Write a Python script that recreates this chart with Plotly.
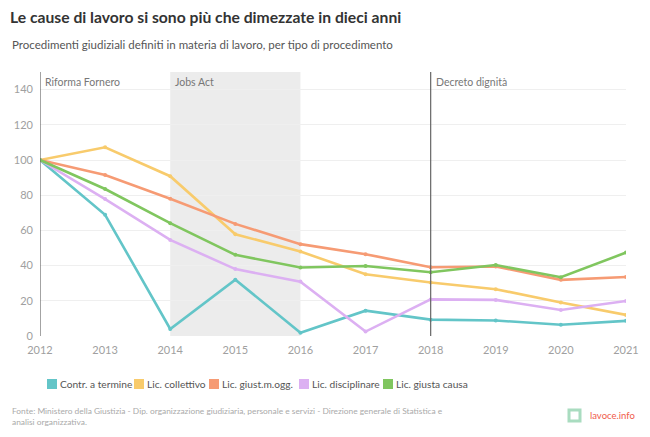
import plotly.graph_objects as go

years = [2012, 2013, 2014, 2015, 2016, 2017, 2018, 2019, 2020, 2021]
contr_termine = [100, 68.9, 4.0, 32.0, 1.8, 14.4, 9.3, 8.8, 6.4, 8.6]
lic_collettivo = [100, 107.2, 90.8, 57.8, 48.0, 35.1, 30.4, 26.6, 19.0, 12.0]
lic_giust_mogg = [100, 91.5, 78.0, 63.7, 52.2, 46.5, 39.1, 39.5, 31.9, 33.5]
lic_disciplinare = [100, 77.8, 54.6, 38.0, 30.9, 2.5, 20.8, 20.5, 14.8, 19.9]
lic_giusta_causa = [100, 83.5, 64.1, 46.1, 38.9, 39.8, 36.2, 40.3, 33.4, 47.4]

series_names = ["Contr. a termine", "Lic. collettivo", "Lic. giust.m.ogg.",
                "Lic. disciplinare", "Lic. giusta causa"]
series_values = [contr_termine, lic_collettivo, lic_giust_mogg,
                 lic_disciplinare, lic_giusta_causa]
colors = ["#63c5c8", "#f8cb6c", "#f69b74", "#dcb0f2", "#80c65f"]

y_ticks = [0, 20, 40, 60, 80, 100, 120, 140]

FONT = "Lato"
W, H = 650, 437
L, R, T, B = 40, 24, 72, 101
PW, PH = W - L - R, H - T - B


def px(xp):
    return (xp - L) / PW


def py(yp):
    return (H - B - yp) / PH


fig = go.Figure()

for name, vals, col in zip(series_names, series_values, colors):
    fig.add_trace(go.Scatter(
        x=years, y=vals, mode="lines+markers", name=name,
        line=dict(color=col, width=2.6), marker=dict(size=4, color=col),
        showlegend=False))

fig.add_shape(type="rect", xref="x", yref="paper", x0=2014, x1=2016, y0=0, y1=1,
              fillcolor="#ececec", line=dict(width=0), layer="below")
for xv in [2012, 2018]:
    fig.add_shape(type="line", xref="x", yref="paper", x0=xv, x1=xv, y0=0, y1=1,
                  line=dict(color="#666666", width=1.2), layer="above")

for xv, txt in [(2012, "Riforma Fornero"), (2014, "Jobs Act"), (2018, "Decreto dignità")]:
    fig.add_annotation(x=xv, y=1, xref="x", yref="paper", text=txt, showarrow=False,
                       xanchor="left", yanchor="top", xshift=3, yshift=-2,
                       font=dict(family=FONT, size=10.5, color="#777777"))

# manual legend (square swatches + labels)
legend_x = [47, 134, 209, 299, 383]
for xs, name, col in zip(legend_x, series_names, colors):
    fig.add_shape(type="rect", xref="paper", yref="paper",
                  x0=px(xs), x1=px(xs + 10), y0=py(389), y1=py(379),
                  fillcolor=col, line=dict(width=0))
    fig.add_annotation(x=px(xs + 11), y=py(384), xref="paper", yref="paper",
                       xanchor="left", yanchor="middle", showarrow=False, text=name,
                       font=dict(family=FONT, size=10.2, color="#555555"))

fig.update_layout(
    width=W, height=H,
    margin=dict(l=L, r=R, t=T, b=B),
    paper_bgcolor="white", plot_bgcolor="white",
    font=dict(family=FONT, color="#999999"),
    title=dict(text="<b>Le cause di lavoro si sono più che dimezzate in dieci anni</b>",
               x=10 / W, xanchor="left", y=1 - 18 / H, yanchor="middle",
               font=dict(family=FONT, size=15.7, color="#333333")),
    xaxis=dict(range=[2012, 2021], tickvals=years, ticktext=[str(y) for y in years],
               showgrid=False, zeroline=False, showline=False,
               tickfont=dict(family=FONT, size=11, color="#a0a0a0"), ticks="",
               ticklabelstandoff=6),
    yaxis=dict(range=[0, 150], tickvals=y_ticks, showgrid=True, gridcolor="#efefef",
               zeroline=False, showline=False, ticks="", ticklabelstandoff=6,
               tickfont=dict(family=FONT, size=11, color="#a0a0a0")),
    showlegend=False,
)

fig.add_annotation(x=px(10), y=py(44), xref="paper", yref="paper", xanchor="left",
                   yanchor="middle", showarrow=False,
                   text="Procedimenti giudiziali definiti in materia di lavoro, per tipo di procedimento",
                   font=dict(family=FONT, size=11.5, color="#555555"))
fig.add_annotation(x=px(10), y=py(404), xref="paper", yref="paper", xanchor="left",
                   yanchor="top", showarrow=False, align="left",
                   text="Fonte: Ministero della Giustizia - Dip. organizzazione giudiziaria, personale e servizi - Direzione generale di Statistica e<br>analisi organizzativa.",
                   font=dict(family=FONT, size=8.4, color="#aaaaaa"))
fig.add_annotation(x=px(588), y=py(415), xref="paper", yref="paper", xanchor="left",
                   yanchor="middle", showarrow=False, text="lavoce.info",
                   font=dict(family=FONT, size=9.5, color="#f05a4a"))
fig.add_shape(type="rect", xref="paper", yref="paper",
              x0=px(569), x1=px(580), y0=py(421), y1=py(410),
              line=dict(color="#a9dcc0", width=3), fillcolor="white")

fig.write_html("out.html", config={"displayModeBar": False},
               post_script="document.body.style.margin='0';")
